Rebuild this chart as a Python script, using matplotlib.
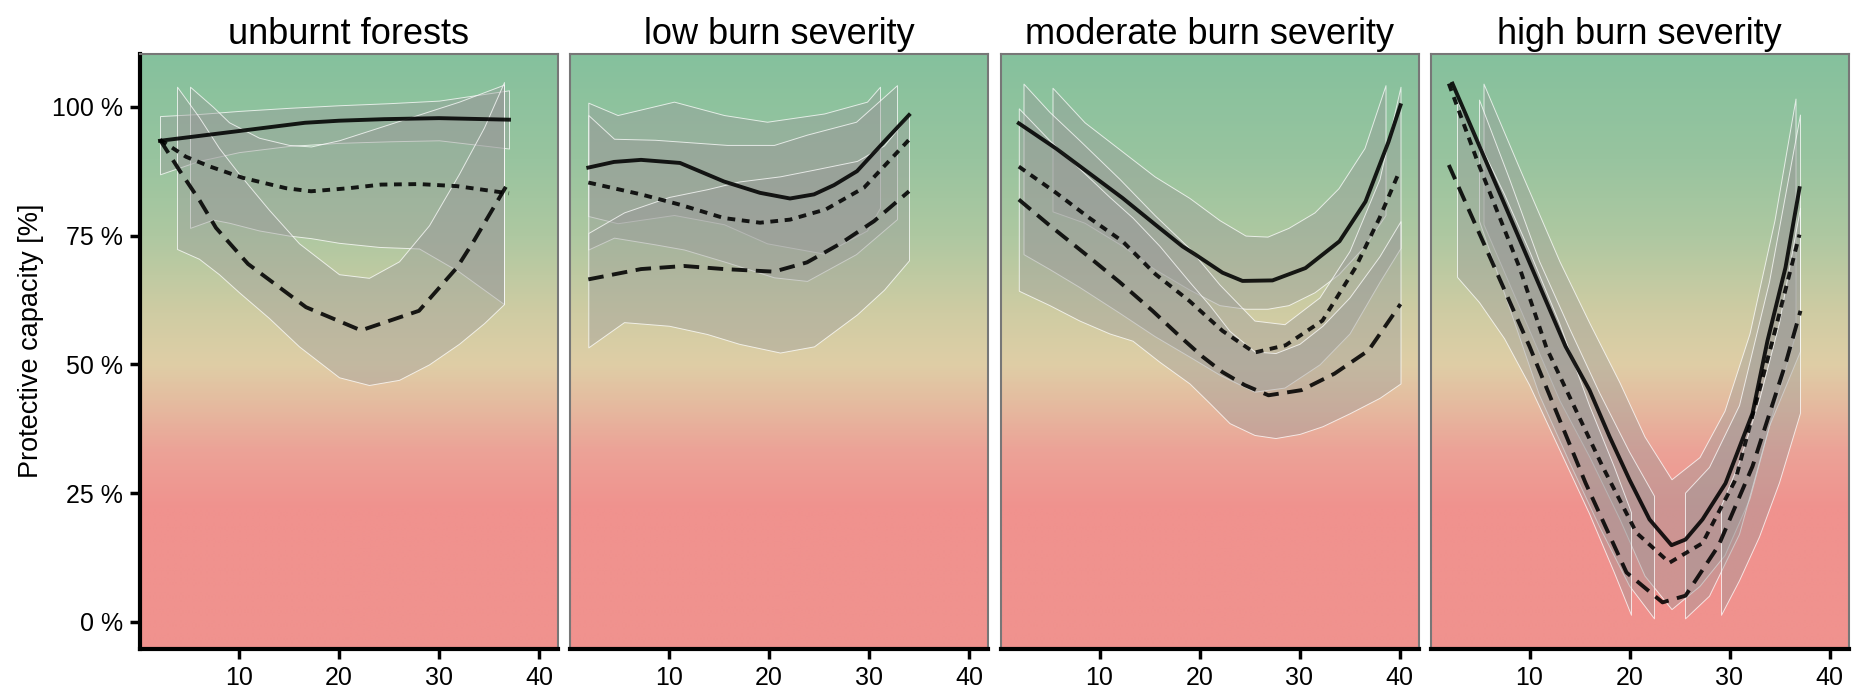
import numpy as np
import matplotlib
matplotlib.use("Agg")
import matplotlib.pyplot as plt
from matplotlib.colors import LinearSegmentedColormap

plt.rcParams['font.family'] = ['Liberation Sans', 'DejaVu Sans']

nan = np.nan

# === Panel titles and axis text ===
titles = ["unburnt forests", "low burn severity", "moderate burn severity", "high burn severity"]
y_ticks = [0, 25, 50, 75, 100]
y_tick_labels = ["0 %", "25 %", "50 %", "75 %", "100 %"]
x_ticks = [10, 20, 30, 40]
y_label = "Protective capacity [%]"

# === unburnt forests ===
unb_solid_x = [2.1, 5, 10, 16.6, 20, 24.5, 30, 37]
unb_solid_y = [93.4, 94.1, 95.3, 96.9, 97.3, 97.6, 97.8, 97.5]
unb_dotted_x = [2.1, 4.7, 7.1, 10.4, 14.7, 17.2, 21, 24.2, 28, 31.8, 37]
unb_dotted_y = [93.6, 90.3, 88.4, 86.2, 84.2, 83.6, 84.2, 84.9, 85.0, 84.6, 83.2]
unb_dashed_x = [2.1, 4.1, 6.1, 7.7, 10.9, 16.7, 22.2, 28, 31.8, 33.5, 37]
unb_dashed_y = [93.6, 87.5, 81.7, 76.5, 69.5, 61.1, 56.6, 60.4, 68.8, 74.0, 85.5]
unb_band1_x = [2.1, 6, 10, 15, 20, 25, 30, 37]
unb_band1_lo = [86.9, 89.5, 91.2, 92.4, 93.0, 93.3, 93.5, 91.9]
unb_band1_hi = [98.2, 98.6, 99.2, 99.8, 100.3, 100.7, 101.2, 103.2]
unb_band2_x = [5.1, 7.4, 9, 12, 15, 17.2, 20, 24, 28, 32, 36.5]
unb_band2_lo = [76.5, 78.1, 77.5, 76.0, 75.0, 74.5, 73.6, 72.8, 72.5, 68.0, 61.7]
unb_band2_hi = [103.9, 100.0, 97.0, 94.0, 92.6, 92.3, 93.5, 96.0, 98.5, 101.0, 104.3]
unb_band3_x = [3.8, 6, 8, 10, 13, 16, 20, 23, 26, 29, 32, 34.5, 36.5]
unb_band3_lo = [72.4, 70.5, 67.5, 64.0, 59.0, 53.5, 47.5, 46.0, 47.0, 50.0, 54.0, 58.0, 61.7]
unb_band3_hi = [103.9, 98.0, 92.0, 87.0, 80.0, 73.5, 67.5, 66.8, 70.0, 77.0, 87.0, 96.0, 104.8]

# === low burn severity ===
low_solid_x = [1.93, 4.5, 7.2, 11.1, 15.5, 19.1, 22.1, 24.5, 26.5, 28.8, 31.5, 34]
low_solid_y = [88.2, 89.3, 89.7, 89.1, 85.5, 83.3, 82.2, 83.0, 84.8, 87.5, 93.2, 98.4]
low_dotted_x = [1.93, 7.2, 11.1, 15.5, 19.1, 22.1, 25.7, 29.5, 34]
low_dotted_y = [85.3, 83.0, 81.0, 78.4, 77.5, 78.1, 80.1, 84.3, 93.6]
low_dashed_x = [1.93, 7.2, 11.5, 15.5, 20.5, 23.8, 27.1, 30.5, 34]
low_dashed_y = [66.5, 68.5, 69.1, 68.5, 68.0, 69.8, 73.4, 77.8, 83.6]
low_band1_x = [1.93, 4.86, 10.5, 15.5, 19.8, 25.5, 29.8, 31.1]
low_band1_lo = [78.8, 77.4, 79.0, 77.2, 73.5, 71.5, 76.0, 80.4]
low_band1_hi = [100.8, 98.4, 101.0, 98.4, 97.1, 98.7, 101.0, 103.9]
low_band2_x = [1.93, 4.5, 8.6, 11.5, 15.8, 20.5, 23.8, 28.7, 32.8]
low_band2_lo = [72.3, 74.6, 73.3, 72.3, 69.8, 66.9, 66.2, 71.4, 78.2]
low_band2_hi = [98.4, 93.8, 93.6, 93.2, 92.6, 92.6, 94.6, 97.1, 104.2]
low_band3_x = [1.93, 5.5, 10, 13.8, 17, 21.1, 24.5, 28.8, 31.5, 34]
low_band3_lo = [53.3, 58.2, 57.5, 55.9, 54.0, 52.3, 53.5, 59.7, 64.5, 70.2]
low_band3_hi = [75.5, 79.5, 82.5, 84.0, 85.5, 86.5, 87.8, 89.5, 92.5, 98.4]

# === moderate burn severity ===
mod_solid_x = [1.93, 5.66, 8.98, 12.3, 15.6, 18.3, 19.6, 22.3, 24.3, 27.3, 30.6, 34.0, 36.6, 38.9, 40.1]
mod_solid_y = [96.8, 91.9, 87.1, 82.3, 77.1, 72.9, 71.3, 67.8, 66.2, 66.3, 68.7, 73.9, 81.6, 93.2, 100.3]
mod_dotted_x = [1.93, 5.66, 9.0, 12.3, 15.6, 19, 22.3, 25.5, 28.6, 32.3, 35.6, 38, 40]
mod_dotted_y = [88.4, 83.3, 78.4, 73.9, 67.5, 62.3, 56.5, 52.3, 53.7, 58.5, 68.8, 78.4, 87.5]
mod_dashed_x = [1.93, 5, 8.6, 12, 15.3, 18, 20.3, 22.3, 24.5, 26.9, 30.2, 33.5, 36.9, 40.1]
mod_dashed_y = [82.0, 77.0, 71.4, 66.0, 60.4, 55.5, 51.5, 48.5, 46.0, 44.0, 45.0, 48.2, 52.7, 61.7]
mod_band1_x = [5.3, 8.5, 12.3, 15.5, 19, 22, 24.6, 26.8, 28.9, 31.5, 33.9, 36.5, 38.6]
mod_band1_lo = [79.7, 77.5, 73.0, 68.5, 64.5, 61.5, 60.8, 60.8, 61.5, 64.0, 67.5, 73.0, 79.0]
mod_band1_hi = [103.7, 97.0, 91.3, 86.5, 82.3, 78.0, 75.0, 74.8, 76.5, 79.5, 84.2, 92.0, 104.2]
mod_band2_x = [2.4, 5, 8, 12, 15.5, 19, 22, 25.5, 28.5, 32, 35, 38, 40.1]
mod_band2_lo = [71.4, 68.5, 65.0, 60.0, 55.5, 51.5, 48.0, 44.7, 45.5, 50.0, 56.0, 66.0, 72.6]
mod_band2_hi = [104.5, 99.0, 93.5, 86.0, 79.0, 72.5, 65.5, 58.5, 57.8, 63.0, 72.0, 86.0, 103.9]
mod_band3_x = [1.93, 5, 8, 11, 13.3, 16, 19, 21, 23, 25.5, 27.6, 30, 32.3, 35, 38, 40.1]
mod_band3_lo = [64.3, 61.5, 58.5, 56.0, 54.6, 50.5, 46.3, 42.5, 38.6, 36.3, 35.7, 36.5, 38.0, 40.5, 43.5, 46.3]
mod_band3_hi = [99.7, 93.5, 88.0, 82.5, 78.5, 73.0, 66.0, 61.5, 56.5, 52.5, 52.2, 54.0, 57.5, 63.0, 71.0, 77.8]

# === high burn severity ===
high_solid_x = [2.3, 7.3, 13.6, 16, 18, 20, 22, 24.2, 25.6, 27.3, 29.6, 32.3, 33.8, 35.6, 37]
high_solid_y = [104.5, 82.0, 53.5, 45.0, 36.0, 27.6, 19.9, 14.9, 16.0, 19.9, 26.9, 40.5, 54.6, 68.8, 84.2]
high_dotted_x = [1.93, 4.8, 9.0, 11.7, 17.3, 20.7, 24.0, 27.3, 30.6, 34.3, 37]
high_dotted_y = [104.5, 89.4, 68.8, 53.2, 30.2, 17.3, 11.5, 15.3, 27.6, 54.6, 75.2]
high_dashed_x = [1.93, 6, 10, 15.6, 19.7, 23.3, 25.6, 28.9, 32.3, 35.6, 37.1]
high_dashed_y = [88.7, 71.0, 53.5, 27.0, 9.6, 3.8, 5.1, 14.8, 30.2, 50.1, 60.4]
high_band1_x = [5.4, 9, 13, 16, 19, 21.5, 24.2, 27, 29.5, 32, 34.5, 36.6]
high_band1_lo = [77.2, 61.0, 43.0, 32.0, 20.0, 9.0, 2.5, 7.0, 13.0, 24.0, 42.0, 56.0]
high_band1_hi = [104.5, 88.0, 70.0, 58.0, 46.5, 36.0, 27.7, 32.0, 41.0, 56.0, 78.0, 101.6]
high_band2_x = [5.0, 8, 11, 14, 17, 20, 22.5, 24, 25.6, 28, 31, 34, 37.1]
high_band2_lo = [77.8, 61.0, 44.0, 31.0, 18.5, 7.0, 0.6, nan, 0.6, 5.0, 17.0, 38.0, 52.5]
high_band2_hi = [101.3, 86.0, 70.0, 57.0, 44.5, 33.0, 24.4, nan, 25.0, 30.0, 42.0, 66.0, 98.4]
high_band3_x = [2.8, 5, 7.5, 10, 13, 16, 18.5, 20.2, 24.5, 29.2, 31, 33, 35, 37.1]
high_band3_lo = [66.9, 62.0, 55.0, 46.0, 33.5, 21.0, 9.5, 1.3, nan, 1.3, 8.0, 16.5, 27.0, 40.5]
high_band3_hi = [101.0, 93.0, 83.0, 72.0, 58.0, 42.0, 30.0, 21.2, nan, 22.5, 31.0, 43.0, 58.0, 80.3]

panel_lines = [
    [(unb_solid_x, unb_solid_y), (unb_dotted_x, unb_dotted_y), (unb_dashed_x, unb_dashed_y)],
    [(low_solid_x, low_solid_y), (low_dotted_x, low_dotted_y), (low_dashed_x, low_dashed_y)],
    [(mod_solid_x, mod_solid_y), (mod_dotted_x, mod_dotted_y), (mod_dashed_x, mod_dashed_y)],
    [(high_solid_x, high_solid_y), (high_dotted_x, high_dotted_y), (high_dashed_x, high_dashed_y)],
]
panel_bands = [
    [(unb_band1_x, unb_band1_lo, unb_band1_hi), (unb_band2_x, unb_band2_lo, unb_band2_hi),
     (unb_band3_x, unb_band3_lo, unb_band3_hi)],
    [(low_band1_x, low_band1_lo, low_band1_hi), (low_band2_x, low_band2_lo, low_band2_hi),
     (low_band3_x, low_band3_lo, low_band3_hi)],
    [(mod_band1_x, mod_band1_lo, mod_band1_hi), (mod_band2_x, mod_band2_lo, mod_band2_hi),
     (mod_band3_x, mod_band3_lo, mod_band3_hi)],
    [(high_band1_x, high_band1_lo, high_band1_hi), (high_band2_x, high_band2_lo, high_band2_hi),
     (high_band3_x, high_band3_lo, high_band3_hi)],
]

# === Style ===
XLIM = (0.1, 41.9)
YLIM = (-5.25, 110.25)
line_styles = ['-', (0, (2.0, 1.7)), (0, (4.0, 2.2))]

bg_stops = [(-5.25, '#f0928e'), (22, '#f0928e'), (33, '#eca297'), (42, '#e5ba9f'),
            (50, '#dfcea6'), (60, '#cfcca3'), (75, '#aec8a1'), (90, '#98c49f'),
            (110.25, '#85c19d')]
bg_cmap = LinearSegmentedColormap.from_list(
    'bg', [((v - YLIM[0]) / (YLIM[1] - YLIM[0]), c) for v, c in bg_stops])
gradient = np.linspace(0, 1, 512).reshape(-1, 1)

W, H = 1852, 691
fig = plt.figure(figsize=(W / 100, H / 100), dpi=100)

lefts = [140, 570, 1000.5, 1430.5]
pw = 418
bottom, top = 649, 54

for i, left in enumerate(lefts):
    ax = fig.add_axes([left / W, (H - bottom) / H, pw / W, (bottom - top) / H])
    ax.imshow(gradient, extent=[XLIM[0], XLIM[1], YLIM[0], YLIM[1]], origin='lower',
              aspect='auto', cmap=bg_cmap, zorder=0, interpolation='bilinear')

    for bx, blo, bhi in panel_bands[i]:
        ax.fill_between(bx, blo, bhi, facecolor=(0.6, 0.6, 0.6, 0.4),
                        edgecolor=(1, 1, 1, 0.75), linewidth=0.7, zorder=2)

    for (lx, ly), ls in zip(panel_lines[i], line_styles):
        ax.plot(lx, ly, color='black', alpha=0.88, linewidth=2.8, linestyle=ls,
                solid_joinstyle='round', zorder=3)

    ax.set_xlim(XLIM)
    ax.set_ylim(YLIM)
    ax.set_title(titles[i], fontsize=26, pad=7)
    ax.set_xticks(x_ticks)
    ax.tick_params(axis='x', length=7, width=2.5, labelsize=18, pad=5)

    for side in ['top', 'right', 'left']:
        ax.spines[side].set_color('#777777')
        ax.spines[side].set_linewidth(1.5)
    ax.spines['bottom'].set_color('black')
    ax.spines['bottom'].set_linewidth(3)

    if i == 0:
        ax.set_yticks(y_ticks)
        ax.set_yticklabels(y_tick_labels)
        ax.tick_params(axis='y', length=7, width=2.5, labelsize=18, pad=5)
        ax.spines['left'].set_color('black')
        ax.spines['left'].set_linewidth(3)
    else:
        ax.set_yticks([])

fig.text(31 / W, 1 - 341 / H, y_label, rotation=90, ha='center', va='center',
         fontsize=19.5)

fig.savefig("out.png", dpi=100)
